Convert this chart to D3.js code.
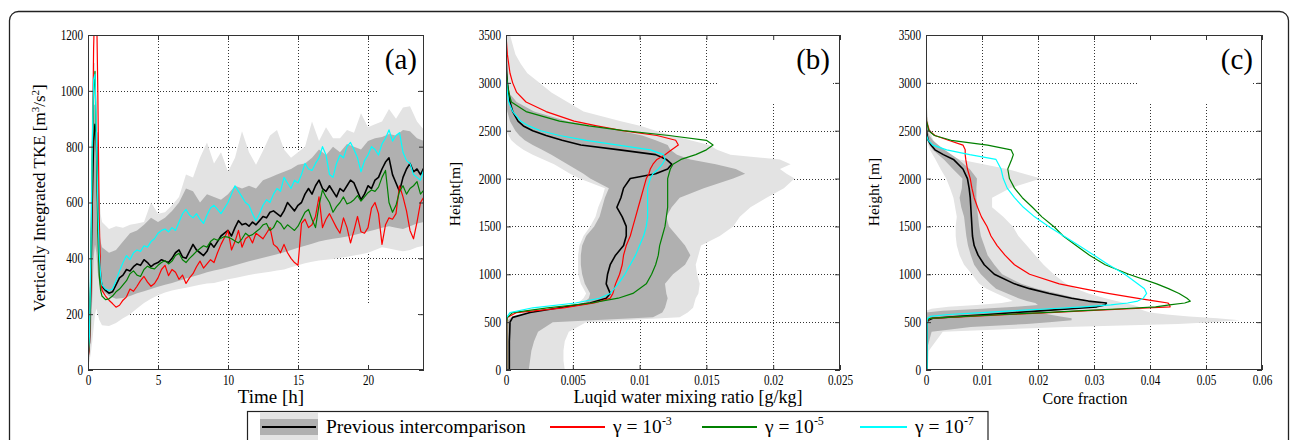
<!DOCTYPE html>
<html>
<head>
<meta charset="utf-8">
<script src="https://cdn.jsdelivr.net/npm/d3@7"></script>
<style>
html, body { margin: 0; padding: 0; background: #fff; }
svg { display: block; }
text { font-family: "Liberation Serif", "Times New Roman", serif; fill: #000; }
</style>
</head>
<body>
<svg id="fig" width="1290" height="440"></svg>
<script>
// ---------------- DATA ----------------

// (a) vertically integrated TKE time series
const timeHours = [0, 0.1, 0.2, 0.3, 0.4, 0.5, 0.6, 0.7, 0.8, 0.9, 1.0].concat(d3.range(1.25, 24.001, 0.25))
const tkeBlack = [45, 100, 300, 600, 820, 880, 850, 600, 420, 330, 300,
    285, 275, 280, 305, 330, 340, 360, 355, 370, 380,
    375, 395, 385, 370, 380, 385, 395, 390, 385, 400,
    420, 430, 405, 400, 425, 450, 430, 420, 410, 425,
    455, 440, 460, 480, 490, 500, 480, 510, 535, 520,
    525, 515, 530, 520, 535, 550, 545, 565, 570, 560,
    550, 570, 600, 585, 570, 590, 600, 630, 650, 630,
    660, 680, 650, 640, 660, 640, 620, 650, 640, 660,
    680, 670, 640, 610, 630, 660, 650, 680, 690, 720,
    745, 760, 700, 670, 640, 690, 720, 740, 710, 720,
    700, 725]
const tkeRed = [35, 90, 300, 700, 1150, 1350, 1350, 1000, 550, 340, 285,
    265, 250, 238, 225, 232, 250, 262, 290, 282, 300,
    320, 335, 315, 300, 310, 330, 360, 375, 338, 360,
    350, 325, 340, 310, 330, 345, 370, 390, 365, 380,
    395, 385, 420, 450, 475, 500, 430, 460, 500, 440,
    470, 480, 455, 490, 480, 470, 490, 510, 450, 440,
    420, 450, 420, 400, 385, 375, 525, 540, 510, 520,
    550, 620, 510, 540, 560, 535, 510, 490, 545, 510,
    455, 500, 550, 495, 490, 510, 580, 600, 560, 450,
    520, 545, 540, 560, 660, 620, 570, 500, 470, 530,
    600, 620]
const tkeGreen = [40, 110, 350, 750, 1000, 1070, 800, 500, 340, 285, 265,
    252, 255, 265, 280, 290, 305, 320, 345, 355, 340,
    335, 360, 372, 365, 362, 375, 385, 392, 380, 390,
    410, 418, 395, 385, 400, 412, 425, 435, 445, 440,
    460, 470, 465, 472, 478, 476, 470, 462, 455, 470,
    490, 480, 485, 495, 505, 520, 525, 500, 510, 535,
    525, 505, 520, 510, 500, 515, 540, 565, 575, 540,
    510, 590, 645, 620, 600, 565, 585, 600, 620, 595,
    600, 610, 625, 605, 620, 635, 645, 640, 655, 690,
    715, 600, 565, 590, 640, 660, 630, 650, 660, 675,
    630, 645]
const tkeCyan = [45, 120, 400, 800, 1040, 1060, 850, 600, 420, 340, 305,
    290, 285, 290, 320, 355, 385, 410, 395, 420, 430,
    425, 445, 440, 460, 470, 490, 500, 505, 495, 510,
    500, 530, 560, 575, 555, 545, 560, 540, 525, 555,
    580, 590, 575, 560, 580, 600, 630, 660, 640, 620,
    600, 590, 560, 535, 560, 590, 610, 600, 630, 650,
    640, 690, 670, 650, 680, 670, 700, 740, 720, 715,
    740, 760, 800, 770, 700, 690, 740, 770, 760, 800,
    815, 790, 760, 710, 750, 770, 800, 790, 770, 810,
    830, 860, 820, 840, 850, 780, 750, 740, 700, 690,
    680, 720]

// (a) spread of the previous intercomparison
const envHours = [0, 0.1, 0.2, 0.3, 0.4, 0.5, 0.6, 0.7, 0.8, 0.9, 1.0].concat(d3.range(1.5, 24.001, 0.5))
const tkeLightHi = [80, 300, 700, 1000, 1100, 1100, 1000, 800, 650, 560, 530,
    505, 515, 510, 520, 525, 530, 600, 560, 565, 590,
    620, 700, 690, 760, 815, 740, 780, 710, 760, 855,
    780, 735, 785, 840, 860, 790, 760, 780, 800, 890,
    820, 870, 830, 830, 860, 850, 920, 870, 880, 890,
    935, 900, 940, 945, 890, 860]
const tkeLightLo = [20, 30, 60, 100, 150, 200, 220, 200, 180, 170, 160,
    158, 168, 185, 200, 220, 240, 255, 268, 278, 285,
    290, 295, 300, 305, 310, 312, 318, 325, 330, 335,
    340, 345, 348, 352, 356, 360, 368, 375, 382, 388,
    392, 395, 398, 402, 406, 410, 415, 420, 430, 440,
    435, 430, 425, 430, 440, 445]
const tkeDarkHi = [60, 200, 500, 800, 950, 950, 800, 600, 500, 460, 440,
    420, 430, 460, 490, 500, 520, 545, 530, 545, 570,
    600, 650, 640, 600, 630, 620, 610, 630, 660, 650,
    660, 650, 680, 690, 700, 710, 720, 735, 740, 760,
    790, 770, 800, 780, 810, 800, 790, 820, 830, 835,
    845, 840, 860, 855, 830, 820]
const tkeDarkLo = [30, 50, 120, 250, 400, 450, 420, 350, 310, 290, 285,
    265, 255, 258, 265, 275, 282, 290, 298, 305, 312,
    320, 328, 335, 342, 350, 356, 362, 368, 375, 382,
    390, 396, 402, 408, 415, 422, 430, 438, 445, 452,
    460, 466, 470, 474, 478, 484, 490, 496, 502, 510,
    515, 510, 505, 515, 525, 530]

// (b) liquid water mixing ratio profiles [g/kg]
const heightsB = [0, 100, 200, 300, 400, 500, 550, 600, 650, 700, 750, 800, 900, 1000, 1100, 1200, 1300, 1400, 1500, 1600, 1700, 1800, 1900, 2000,
    2050, 2100, 2150, 2200, 2250, 2300, 2350, 2400, 2450, 2500, 2550, 2600, 2700, 2800, 2900, 3000, 3100, 3200, 3300, 3500]
const qlBlack = [0.00025, 0.00025, 0.00025, 0.00025, 0.00028, 0.0003, 0.0005, 0.0018, 0.004, 0.0063, 0.0075, 0.0078, 0.0075, 0.0076, 0.0078, 0.0082, 0.0088, 0.009, 0.009, 0.0087, 0.0083, 0.0086, 0.0088, 0.0093,
    0.0112, 0.0121, 0.0124, 0.012, 0.0112, 0.0085, 0.0056, 0.0042, 0.003, 0.002, 0.0013, 0.0009, 0.0005, 0.0003, 0.0002, 0.0001, 0.00005, 0.00003, 0.00002, 0]
const qlRed = [0.00005, 0.00005, 0.00005, 0.00005, 0.00005, 0.00005, 0.0001, 0.0008, 0.0043, 0.0066, 0.0078, 0.008, 0.0082, 0.0085, 0.0087, 0.0088, 0.009, 0.0093, 0.0095, 0.0097, 0.0099, 0.0101, 0.0103, 0.0105,
    0.0107, 0.0108, 0.011, 0.0113, 0.0119, 0.0124, 0.0129, 0.0127, 0.0113, 0.0087, 0.0068, 0.0051, 0.003, 0.0015, 0.0008, 0.0005, 0.0003, 0.0002, 0.0001, 0]
const qlGreen = [0.00005, 0.00005, 0.00005, 0.00005, 0.00005, 0.00005, 0.0001, 0.0005, 0.0031, 0.0064, 0.0084, 0.0095, 0.0105, 0.0109, 0.0112, 0.0114, 0.0115, 0.0117, 0.0119, 0.012, 0.0121, 0.0121, 0.0121, 0.0121,
    0.0122, 0.0123, 0.0125, 0.0131, 0.0142, 0.015, 0.0155, 0.015, 0.0122, 0.0088, 0.0062, 0.004, 0.0015, 0.0004, 0.0002, 0.0001, 0.00005, 0, 0, 0]
const qlCyan = [0.00002, 0.00002, 0.00002, 0.00002, 0.00002, 0.00002, 0.00005, 0.0003, 0.002, 0.0052, 0.007, 0.0078, 0.0084, 0.0089, 0.0093, 0.0097, 0.01, 0.0103, 0.0105, 0.0106, 0.0106, 0.0106, 0.0106, 0.0108,
    0.011, 0.0114, 0.0117, 0.0119, 0.0118, 0.0108, 0.0084, 0.006, 0.004, 0.0026, 0.0017, 0.0011, 0.0005, 0.0002, 0.0001, 0.00005, 0, 0, 0, 0]
const qlLightLo = [0, 0, 0, 0, 0, 0, 0.0002, 0.0012, 0.0038, 0.0054, 0.0058, 0.006, 0.0056, 0.0054, 0.0054, 0.0054, 0.0055, 0.0058, 0.0063, 0.0067, 0.0069, 0.0072, 0.0074, 0.0055,
    0.0048, 0.0042, 0.0036, 0.0028, 0.002, 0.0013, 0.0008, 0.0004, 0.0002, 0, 0, 0, 0, 0, 0, 0, 0, 0, 0, 0]
const qlLightHi = [0.0044, 0.0043, 0.0043, 0.0044, 0.0047, 0.006, 0.013, 0.0136, 0.014, 0.0141, 0.0142, 0.0144, 0.0145, 0.0143, 0.0142, 0.0144, 0.0146, 0.016, 0.017, 0.0175, 0.0183, 0.0195, 0.0208, 0.0216,
    0.021, 0.0205, 0.0213, 0.0205, 0.0168, 0.0158, 0.0152, 0.0138, 0.0125, 0.0112, 0.0101, 0.0086, 0.0058, 0.0046, 0.0034, 0.0025, 0.0016, 0.0011, 0.0007, 0.0003]
const qlDarkLo = [0, 0, 0, 0, 0, 0, 0.0004, 0.0018, 0.0045, 0.0058, 0.0062, 0.0063, 0.0059, 0.0057, 0.0056, 0.0056, 0.0057, 0.006, 0.0066, 0.007, 0.0072, 0.0074, 0.0077, 0.0063,
    0.0058, 0.0052, 0.0046, 0.004, 0.0034, 0.0027, 0.002, 0.0014, 0.001, 0.0007, 0.0005, 0.0003, 0.0001, 0, 0, 0, 0, 0, 0, 0]
const qlDarkHi = [0.0017, 0.0018, 0.0019, 0.0021, 0.0024, 0.0035, 0.011, 0.0117, 0.0119, 0.012, 0.0121, 0.012, 0.0119, 0.0125, 0.0134, 0.0138, 0.0134, 0.0128, 0.0122, 0.012, 0.0124, 0.013, 0.0148, 0.017,
    0.0179, 0.0172, 0.0157, 0.0138, 0.0128, 0.0123, 0.0121, 0.0112, 0.0102, 0.0085, 0.0066, 0.0046, 0.0021, 0.0008, 0.0002, 0.0001, 0, 0, 0, 0]

// (c) core fraction profiles
const heightsC = [0, 200, 400, 450, 480, 500, 520, 540, 560, 580, 600, 620, 640, 660, 680, 700, 720, 750, 800, 850, 900,
    1000, 1100, 1200, 1300, 1400, 1500, 1600, 1700, 1800, 1900, 2000, 2100, 2200, 2250, 2300, 2350, 2400, 2450, 2500, 2600, 2800, 3000, 3500]
const coreBlack = [0.0002, 0.0002, 0.0002, 0.0002, 0.0002, 0.0002, 0.0004, 0.0012, 0.006, 0.011, 0.016, 0.021, 0.026, 0.0305, 0.032, 0.0322, 0.029, 0.026, 0.022, 0.0185, 0.0158,
    0.0122, 0.0104, 0.0093, 0.0086, 0.0083, 0.0082, 0.0081, 0.008, 0.0079, 0.0077, 0.0074, 0.0066, 0.0049, 0.0031, 0.0016, 0.0009, 0.0004, 0.0002, 0.0001, 0, 0, 0, 0]
const coreRed = [0.0001, 0.0001, 0.0001, 0.0001, 0.0001, 0.0001, 0.0003, 0.0008, 0.008, 0.015, 0.022, 0.029, 0.0365, 0.0436, 0.0435, 0.0432, 0.041, 0.0376, 0.0325, 0.028, 0.0238,
    0.0185, 0.0158, 0.0141, 0.0127, 0.0116, 0.0109, 0.0099, 0.0092, 0.0086, 0.0082, 0.0079, 0.0074, 0.0071, 0.007, 0.007, 0.0066, 0.004, 0.0016, 0.0006, 0.0001, 0, 0, 0]
const coreGreen = [0.0001, 0.0001, 0.0001, 0.0001, 0.0001, 0.0001, 0.0002, 0.0006, 0.007, 0.014, 0.021, 0.028, 0.035, 0.041, 0.0435, 0.0462, 0.0472, 0.0466, 0.0452, 0.0433, 0.0412,
    0.0362, 0.032, 0.0292, 0.0268, 0.0245, 0.0228, 0.0207, 0.019, 0.0172, 0.0158, 0.0149, 0.0146, 0.0153, 0.0156, 0.0152, 0.011, 0.0045, 0.0015, 0.0005, 0.0001, 0, 0, 0]
const coreCyan = [0.0002, 0.0002, 0.0002, 0.0002, 0.0002, 0.0002, 0.0002, 0.0003, 0.0008, 0.004, 0.01, 0.016, 0.022, 0.028, 0.033, 0.036, 0.0378, 0.0388, 0.0394, 0.039, 0.0378,
    0.0355, 0.0326, 0.03, 0.0273, 0.0246, 0.0219, 0.0194, 0.0174, 0.0158, 0.0145, 0.0138, 0.0134, 0.0125, 0.0078, 0.0037, 0.0012, 0.0004, 0.0001, 0, 0, 0, 0, 0]
const coreLightLo = [0, 0, 0, 0, 0, 0, 0, 0, 0, 0, 0, 0, 0.001, 0.004, 0.009, 0.0135, 0.0155, 0.0145, 0.0126, 0.0108, 0.0095,
    0.0082, 0.0068, 0.006, 0.0055, 0.0053, 0.0053, 0.0055, 0.0052, 0.0049, 0.0043, 0.0036, 0.0026, 0.0017, 0.0012, 0.0007, 0.0004, 0.0002, 0, 0, 0, 0, 0, 0]
const coreLightHi = [0.0003, 0.0005, 0.003, 0.025, 0.045, 0.051, 0.056, 0.052, 0.047, 0.043, 0.04, 0.039, 0.038, 0.038, 0.037, 0.0355, 0.034, 0.032, 0.029, 0.0268, 0.025,
    0.0228, 0.021, 0.0195, 0.018, 0.0165, 0.0155, 0.0138, 0.0118, 0.0118, 0.015, 0.0205, 0.0145, 0.006, 0.0043, 0.0025, 0.0018, 0.0013, 0.001, 0.0007, 0.0004, 0.0001, 0, 0]
const coreDarkLo = [0, 0, 0, 0, 0, 0, 0, 0, 0, 0, 0, 0.003, 0.01, 0.016, 0.02, 0.0195, 0.018, 0.0165, 0.0145, 0.0125, 0.0115,
    0.0098, 0.0086, 0.008, 0.0075, 0.0072, 0.007, 0.0068, 0.0063, 0.006, 0.0064, 0.0065, 0.0048, 0.0032, 0.0022, 0.0012, 0.0006, 0.0003, 0.0001, 0, 0, 0, 0, 0]
const coreDarkHi = [0, 0.0001, 0.001, 0.008, 0.018, 0.022, 0.026, 0.026, 0.024, 0.022, 0.02, 0.022, 0.027, 0.03, 0.032, 0.031, 0.0295, 0.027, 0.0235, 0.0198, 0.017,
    0.0136, 0.0122, 0.011, 0.0104, 0.0098, 0.0095, 0.0093, 0.0091, 0.009, 0.009, 0.0091, 0.0078, 0.0058, 0.0046, 0.0033, 0.0022, 0.0012, 0.0006, 0.0003, 0.0001, 0, 0, 0]

// ticks and labels
const timeTicks = [0, 5, 10, 15, 20]
const tkeTicks = [0, 200, 400, 600, 800, 1000, 1200]
const heightTicks = [0, 500, 1000, 1500, 2000, 2500, 3000, 3500]
const liquidTicks = [0, 0.005, 0.01, 0.015, 0.02, 0.025]
const liquidTickLabels = ['0', '0.005', '0.01', '0.015', '0.02', '0.025']
const coreTicks = [0, 0.01, 0.02, 0.03, 0.04, 0.05, 0.06]
const coreTickLabels = ['0', '0.01', '0.02', '0.03', '0.04', '0.05', '0.06']

const seriesNames = ['black', 'red', 'green', 'cyan']
const seriesColors = ['#000000', '#ff0000', '#008000', '#00ffff']
const legendLabels = ['Previous intercomparison', 'γ = 10', 'γ = 10', 'γ = 10']
const legendExponents = ['', '-3', '-5', '-7']

const LIGHT = '#e3e3e3'
const DARK = '#b0b0b0'

// ---------------- DRAWING ----------------

const svg = d3.select('#fig')

// outer rounded frame of the figure
svg.append('rect')
    .attr('x', 9.5).attr('y', 11.5)
    .attr('width', 1279).attr('height', 480)
    .attr('rx', 9)
    .attr('fill', 'none')
    .attr('stroke', '#222')
    .attr('stroke-width', 1.3)

const plotTop = 35, plotBottom = 370

const panels = [
    {
        key: 'a', profile: false,
        x: d3.scaleLinear().domain([0, 24]).range([88, 424]),
        y: d3.scaleLinear().domain([0, 1200]).range([plotBottom, plotTop]),
        xTicks: timeTicks, xFmt: d => d, yTicks: tkeTicks, yFmt: d => d,
        lines: [tkeBlack, tkeRed, tkeGreen, tkeCyan], along: timeHours,
        light: [tkeLightLo, tkeLightHi], dark: [tkeDarkLo, tkeDarkHi], envAlong: envHours,
        letter: '(a)', letterX: 417,
        masks: [[379, 36, 39, 61], [299, 303, 119, 66]]
    },
    {
        key: 'b', profile: true,
        x: d3.scaleLinear().domain([0, 0.025]).range([506, 840]),
        y: d3.scaleLinear().domain([0, 3500]).range([plotBottom, plotTop]),
        xTicks: liquidTicks, xFmt: (d, i) => liquidTickLabels[i], yTicks: heightTicks, yFmt: d => d,
        lines: [qlBlack, qlRed, qlGreen, qlCyan], along: heightsB,
        light: [qlLightLo, qlLightHi], dark: [qlDarkLo, qlDarkHi], envAlong: heightsB,
        letter: '(b)', letterX: 830,
        masks: [[717, 36, 116, 67]]
    },
    {
        key: 'c', profile: true,
        x: d3.scaleLinear().domain([0, 0.06]).range([926, 1262]),
        y: d3.scaleLinear().domain([0, 3500]).range([plotBottom, plotTop]),
        xTicks: coreTicks, xFmt: (d, i) => coreTickLabels[i], yTicks: heightTicks, yFmt: d => d,
        lines: [coreBlack, coreRed, coreGreen, coreCyan], along: heightsC,
        light: [coreLightLo, coreLightHi], dark: [coreDarkLo, coreDarkHi], envAlong: heightsC,
        letter: '(c)', letterX: 1253,
        masks: [[1137, 36, 116, 67]]
    }
]

const defs = svg.append('defs')

panels.forEach(p => {
    const [x0, x1] = p.x.range()
    const g = svg.append('g')

    defs.append('clipPath').attr('id', 'clip-' + p.key)
        .append('rect').attr('x', x0).attr('y', plotTop).attr('width', x1 - x0).attr('height', plotBottom - plotTop)

    // dotted grid
    const grid = g.append('g')
        .attr('stroke', '#000').attr('stroke-width', 0.8).attr('stroke-dasharray', '1,2')
    grid.selectAll('.vg').data(p.xTicks.filter(d => d > p.x.domain()[0] && d < p.x.domain()[1]))
        .join('line')
        .attr('x1', d => Math.round(p.x(d)) + 0.5).attr('x2', d => Math.round(p.x(d)) + 0.5)
        .attr('y1', plotTop).attr('y2', plotBottom)
    grid.selectAll('.hg').data(p.yTicks.filter(d => d > p.y.domain()[0] && d < p.y.domain()[1]))
        .join('line')
        .attr('y1', d => Math.round(p.y(d)) + 0.5).attr('y2', d => Math.round(p.y(d)) + 0.5)
        .attr('x1', x0).attr('x2', x1)

    // blank boxes that interrupt the grid in the original figure
    g.selectAll('.mask').data(p.masks).join('rect')
        .attr('x', d => d[0]).attr('y', d => d[1]).attr('width', d => d[2]).attr('height', d => d[3])
        .attr('fill', '#fff')

    const plot = g.append('g').attr('clip-path', `url(#clip-${p.key})`)

    // spread bands
    const bandArea = (lo, hi) => {
        const rows = p.envAlong.map((v, i) => ({ v, lo: lo[i], hi: hi[i] }))
        const area = p.profile
            ? d3.area().y(d => p.y(d.v)).x0(d => p.x(d.lo)).x1(d => p.x(d.hi))
            : d3.area().x(d => p.x(d.v)).y0(d => p.y(d.lo)).y1(d => p.y(d.hi))
        return area(rows)
    }
    plot.append('path').attr('d', bandArea(p.light[0], p.light[1])).attr('fill', LIGHT)
    plot.append('path').attr('d', bandArea(p.dark[0], p.dark[1])).attr('fill', DARK)

    // series lines
    const lineGen = p.profile
        ? d3.line().y(d => p.y(d.v)).x(d => p.x(d.val))
        : d3.line().x(d => p.x(d.v)).y(d => p.y(d.val))
    p.lines.forEach((vals, k) => {
        const rows = p.along.map((v, i) => ({ v, val: vals[i] }))
        plot.append('path')
            .attr('d', lineGen(rows))
            .attr('fill', 'none')
            .attr('stroke', seriesColors[k])
            .attr('stroke-width', k === 0 ? 1.6 : 1.2)
            .attr('stroke-linejoin', 'round')
    })

    // axes box
    g.append('rect')
        .attr('x', x0 + 0.5).attr('y', plotTop + 0.5)
        .attr('width', x1 - x0 - 1).attr('height', plotBottom - plotTop - 1)
        .attr('fill', 'none').attr('stroke', '#333').attr('stroke-width', 1)

    const styleAxis = sel => {
        sel.select('.domain').remove()
        sel.selectAll('.tick line').attr('stroke', '#333')
        sel.selectAll('text').attr('fill', '#000')
            .attr('font-family', '"Liberation Serif", "Times New Roman", serif')
            .attr('font-size', 14)
    }

    // inward ticks on all four sides
    g.append('g').attr('transform', `translate(0,${plotBottom})`)
        .call(d3.axisBottom(p.x).tickValues(p.xTicks).tickFormat(p.xFmt).tickSize(-5).tickPadding(5))
        .call(styleAxis)
        .selectAll('text').attr('transform', 'scale(0.8,1)')
    g.append('g').attr('transform', `translate(0,${plotTop})`)
        .call(d3.axisTop(p.x).tickValues(p.xTicks).tickFormat('').tickSize(-5))
        .call(styleAxis)
    g.append('g').attr('transform', `translate(${x0},0)`)
        .call(d3.axisLeft(p.y).tickValues(p.yTicks).tickFormat(p.yFmt).tickSize(-5).tickPadding(5))
        .call(styleAxis)
        .selectAll('text').attr('x', -5 / 0.8).attr('transform', 'scale(0.8,1)')
    g.append('g').attr('transform', `translate(${x1},0)`)
        .call(d3.axisRight(p.y).tickValues(p.yTicks).tickFormat('').tickSize(-5))
        .call(styleAxis)

    // panel letter
    g.append('text')
        .attr('x', p.letterX).attr('y', 69)
        .attr('text-anchor', 'end')
        .attr('font-size', 29)
        .text(p.letter)
})

// axis titles
svg.append('text').attr('x', 271).attr('y', 403).attr('text-anchor', 'middle').attr('font-size', 19).text('Time [h]')
svg.append('text').attr('x', 688).attr('y', 403).attr('text-anchor', 'middle').attr('font-size', 18).text('Luqid water mixing ratio [g/kg]')
svg.append('text').attr('x', 1085).attr('y', 404).attr('text-anchor', 'middle').attr('font-size', 16).text('Core fraction')

const yTitleA = svg.append('text')
    .attr('transform', 'translate(45,198) rotate(-90)')
    .attr('text-anchor', 'middle').attr('font-size', 17)
yTitleA.append('tspan').text('Vertically Integrated TKE [m')
yTitleA.append('tspan').attr('dy', -6).attr('font-size', 11).text('3')
yTitleA.append('tspan').attr('dy', 6).text('/s')
yTitleA.append('tspan').attr('dy', -6).attr('font-size', 11).text('2')
yTitleA.append('tspan').attr('dy', 6).text(']')

svg.append('text').attr('transform', 'translate(460,194) rotate(-90)')
    .attr('text-anchor', 'middle').attr('font-size', 15.5).text('Height[m]')
svg.append('text').attr('transform', 'translate(879,192) rotate(-90)')
    .attr('text-anchor', 'middle').attr('font-size', 15.5).text('Height [m]')

// ---------------- LEGEND ----------------
const legend = svg.append('g')
legend.append('rect')
    .attr('x', 247.5).attr('y', 411.5).attr('width', 740.5).attr('height', 45)
    .attr('fill', '#fff').attr('stroke', '#222').attr('stroke-width', 1.2)

const legendX = [262, 550, 702, 860]
const legendLen = [54, 55, 55, 47]
const legendTextX = [326, 613, 765, 915]
const legendY = 427

legend.append('rect').attr('x', 260).attr('y', 412).attr('width', 58).attr('height', 28).attr('fill', LIGHT)
legend.append('rect').attr('x', 260).attr('y', 419).attr('width', 58).attr('height', 16).attr('fill', DARK)

seriesNames.forEach((name, i) => {
    legend.append('line')
        .attr('x1', legendX[i]).attr('x2', legendX[i] + legendLen[i])
        .attr('y1', legendY).attr('y2', legendY)
        .attr('stroke', seriesColors[i])
        .attr('stroke-width', i === 0 ? 2.2 : 1.8)
    const t = legend.append('text')
        .attr('x', legendTextX[i]).attr('y', 433)
        .attr('font-size', 19.5)
    t.append('tspan').text(legendLabels[i])
    if (legendExponents[i]) {
        t.append('tspan').attr('dy', -8).attr('font-size', 12).text(legendExponents[i])
    }
})
</script>
</body>
</html>
